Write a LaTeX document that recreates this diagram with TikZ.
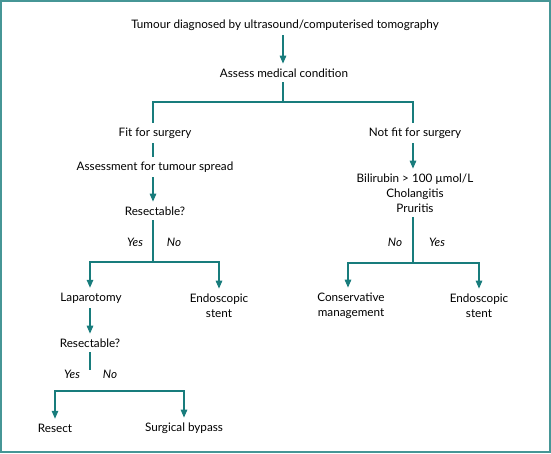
\documentclass[tikz,border=0pt]{standalone}
\usepackage{fontspec}
\setmainfont{Lato}
\usetikzlibrary{arrows.meta}
\definecolor{teal1}{RGB}{24,124,124}
\definecolor{frame1}{RGB}{70,150,150}
\tikzset{
  box/.style={font=\fontsize{11.7}{15}\selectfont, align=center, inner sep=0pt, outer sep=5pt},
  lbl/.style={font=\fontsize{11.7}{15}\selectfont\itshape, inner sep=0pt},
  flow/.style={draw=teal1, line width=1.4pt},
  arr/.style={flow, -{Triangle[length=8pt,width=6.5pt]}},
}
\begin{document}
\begin{tikzpicture}[x=1pt,y=-1pt]
    \useasboundingbox (0,0) rectangle (551,453);
    \draw[frame1, line width=1.6pt] (1,1) rectangle (550,452);

    % top
    \node[box] (tumour) at (285,25) {Tumour diagnosed by ultrasound/computerised tomography};
    \node[box] (assess) at (284,73) {Assess medical condition};
    \node[box] (fit) at (155,133) {Fit for surgery};
    \node[box] (notfit) at (415,133) {Not fit for surgery};
    \coordinate (b1) at (283,102);
    \draw[arr] (tumour.south -| b1) -- (assess.north -| b1);
    \draw[flow] (assess.south -| b1) -- (b1);
    \draw[flow] (fit.north -| 153,0) |- (b1) -| (notfit.north -| 413,0);

    % fit branch
    \node[box] (spread) at (155,167) {Assessment for tumour spread};
    \node[box] (res1) at (155,211) {Resectable?};
    \node[box] (lap) at (91,298) {Laparotomy};
    \node[box] (stent1) at (219,305.5) {Endoscopic\\stent};
    \coordinate (b2) at (153,262);
    \draw[flow] (fit.south -| b2) -- (spread.north -| b2);
    \draw[arr] (spread.south -| b2) -- (res1.north -| b2);
    \draw[flow] (res1.south -| b2) -- (b2);
    \draw[arr] (b2) -| (90,0 |- lap.north);
    \draw[arr] (b2) -| (stent1.north);
    \node[lbl] (yes1) at (135,242) {Yes};
    \node[lbl] (no1) at (174,242) {No};

    \node[box] (res2) at (90,343) {Resectable?};
    \node[box] (resect) at (55,428) {Resect};
    \node[box] (bypass) at (184,428) {Surgical bypass};
    \coordinate (e2) at (90,370);
    \coordinate (b3) at (119,391);
    \draw[arr] (lap.south -| e2) -- (res2.north -| e2);
    \draw[flow] (res2.south -| e2) -- (e2);
    \draw[arr] (b3) -| (resect);
    \draw[arr] (b3) -| (bypass);
    \node[lbl] (yes2) at (72,374) {Yes};
    \node[lbl] (no2) at (110,374) {No};

    % not fit branch
    \node[box] (bili) at (415,193) {Bilirubin > 100 µmol/L\\Cholangitis\\Pruritis};
    \node[box] (cons) at (351,305.5) {Conservative\\management};
    \node[box] (stent2) at (479,305.5) {Endoscopic\\stent};
    \coordinate (b4) at (413,263);
    \draw[arr] (notfit.south -| b4) -- (bili.north -| b4);
    \draw[flow] (bili.south -| b4) -- (b4);
    \draw[arr] (b4) -| (348,0 |- cons.north);
    \draw[arr] (b4) -| (stent2.north);
    \node[lbl] (no3) at (395,242) {No};
    \node[lbl] (yes3) at (437,242) {Yes};
\end{tikzpicture}
\end{document}
